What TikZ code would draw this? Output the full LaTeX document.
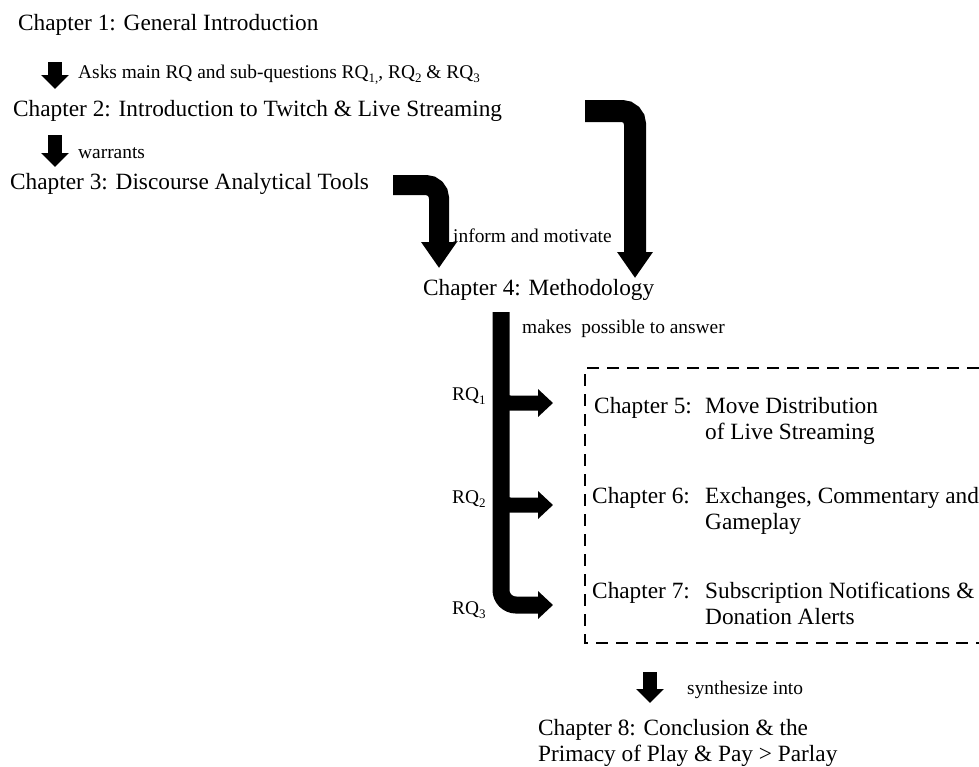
\documentclass[tikz,border=0pt]{standalone}
\usepackage{fontspec}
\setmainfont{Liberation Serif}
\usetikzlibrary{arrows.meta}
% lowered small figures after "RQ"
\newcommand\rqsub[1]{\raisebox{-0.55ex}{\fontsize{13}{13}\selectfont #1}}
\tikzset{
  chap/.style={anchor=base west, inner sep=0pt, font=\fontsize{23.3}{26.8}\selectfont},
  lbl/.style={anchor=base west, inner sep=0pt, font=\fontsize{19.4}{23}\selectfont},
  smallarrow/.style={line width=14pt, -{Triangle[length=14pt,width=27pt]}},
  bigarrow/.style={line width=#1, rounded corners=13pt, -{Triangle[length=26pt,width=34pt]}},
  trunkarrow/.style={line width=17pt, rounded corners=15pt, -{Triangle[length=15pt,width=27pt]}},
  brancharrow/.style={line width=15pt, rounded corners=9pt, -{Triangle[length=15pt,width=27pt]}},
  chapterbox/.style={line width=2.6pt, dash pattern=on 12pt off 8pt}
}
\begin{document}
\begin{tikzpicture}[x=1pt, y=-1pt]
\useasboundingbox (0,0) rectangle (979,766);

% chapter titles
\node[chap] (c1) at (18,30) {Chapter 1: General Introduction};
\node[chap] (c2) at (13,116) {Chapter 2: Introduction to Twitch \& Live Streaming};
\node[chap] (c3) at (10,189) {Chapter 3: Discourse Analytical Tools};
\node[chap] (c4) at (423,295) {Chapter 4: Methodology};
\node[chap] (c5) at (594,413) {\begin{tabular}[t]{@{}l@{}l@{}}\makebox[111pt][l]{Chapter 5:} & Move Distribution\\ & of Live Streaming\end{tabular}};
\node[chap] (c6) at (592,503) {\begin{tabular}[t]{@{}l@{}l@{}}\makebox[113pt][l]{Chapter 6:} & Exchanges, Commentary and\\ & Gameplay\end{tabular}};
\node[chap] (c7) at (592,598) {\begin{tabular}[t]{@{}l@{}l@{}}\makebox[113pt][l]{Chapter 7:} & Subscription Notifications \&\\ & Donation Alerts\end{tabular}};
\node[chap] (c8) at (538,735) {\begin{tabular}[t]{@{}l@{}}Chapter 8: Conclusion \& the\\Primacy of Play \& Pay > Parlay\end{tabular}};

% arrow labels
\node[lbl] (l1) at (78,78) {Asks main RQ and sub-questions RQ\rqsub{1,}, RQ\rqsub{2} \& RQ\rqsub{3}};
\node[lbl] (l2) at (78,158) {warrants};
\node[lbl] (l3) at (453,242) {inform and motivate};
\node[lbl] (l4) at (522,333) {makes~ possible to answer};
\node[lbl] (q1) at (452,400) {RQ\rqsub{1}};
\node[lbl] (q2) at (452,503) {RQ\rqsub{2}};
\node[lbl] (q3) at (452,614) {RQ\rqsub{3}};
\node[lbl] (l8) at (687,694) {synthesize into};

% arrow end points
\coordinate (a1s) at (55,62);   \coordinate (a1e) at (55,89);
\coordinate (a2s) at (55,135);  \coordinate (a2e) at (55,167);
\coordinate (bAs) at (393,185); \coordinate (bAc) at (439,185); \coordinate (bAe) at (439,268);
\coordinate (bBs) at (585,111); \coordinate (bBc) at (635,111); \coordinate (bBe) at (635,278);
\coordinate (ts)  at (501,312); \coordinate (tc)  at (501,605); \coordinate (te)  at (553,605);
\coordinate (r1s) at (501,378); \coordinate (r1c) at (501,403); \coordinate (r1e) at (553,403);
\coordinate (r2s) at (501,480); \coordinate (r2c) at (501,505); \coordinate (r2e) at (553,505);
\coordinate (a8s) at (650,672); \coordinate (a8e) at (650,703);

% block arrows
\draw[smallarrow] (a1s) -- (a1e);
\draw[smallarrow] (a2s) -- (a2e);
\draw[bigarrow=20pt] (bAs) -- (bAc) -- (bAe);
\draw[bigarrow=22pt] (bBs) -- (bBc) -- (bBe);
\draw[trunkarrow] (ts) -- (tc) -- (te);
\draw[brancharrow] (r1s) -- (r1c) -- (r1e);
\draw[brancharrow] (r2s) -- (r2c) -- (r2e);
\draw[smallarrow] (a8s) -- (a8e);

% open dashed frame around chapters 5 to 7
\coordinate (f1) at (979,368); \coordinate (f2) at (585,368);
\coordinate (f3) at (585,643); \coordinate (f4) at (979,643);
\draw[chapterbox] (f1) -- (f2) -- (f3) -- (f4);
\end{tikzpicture}
\end{document}
